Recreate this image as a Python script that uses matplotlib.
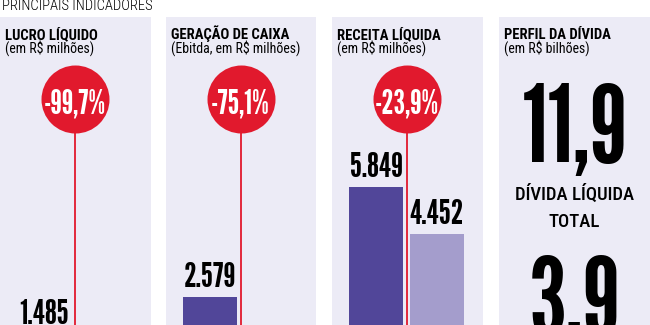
import matplotlib
matplotlib.use("Agg")
import matplotlib.pyplot as plt

# Dados
titulos = ["LUCRO LÍQUIDO", "GERAÇÃO DE CAIXA", "RECEITA LÍQUIDA", "PERFIL DA DÍVIDA"]
subtitulos = ["(em R$ milhões)", "(Ebitda, em R$ milhões)", "(em R$ milhões)", "(em R$ bilhões)"]
antes = [1485, 2579, 5849]
depois = [4.5, 642, 4452]
variacao = ["-99,7%", "-75,1%", "-23,9%"]
divida = ["11,9", "3,9"]
divida_rotulos = ["DÍVIDA LÍQUIDA", "TOTAL"]

W, H = 650, 325
fundo = "#ecebf6"
roxo = "#514699"
lilas = "#a49dcc"
vermelho = "#e1192d"
f_num = ["League Gothic", "DejaVu Sans"]
f_txt = ["Roboto Condensed", "DejaVu Sans"]

fig = plt.figure(figsize=(6.5, 3.25), dpi=100)
fig.patch.set_facecolor("white")

painel_x = [0, 166, 332, 499]
painel_w = [151, 150, 151, 151]
topo = 17
base = 384
escala = 0.0337  # px por unidade
pt = 0.72  # pontos por pixel


def fy(y):
    return 1 - y / H


def fmt(v):
    return f"{v:,.0f}".replace(",", ".")


fig.text(2 / W, fy(10), "PRINCIPAIS INDICADORES", fontsize=10.5, family=f_txt,
         fontweight="light", va="baseline", ha="left")

for i in range(4):
    l, w = painel_x[i], painel_w[i]
    ax = fig.add_axes([l / W, (H - base) / H, w / W, (base - topo) / H])
    ax.set_facecolor(fundo)
    for s in ax.spines.values():
        s.set_visible(False)
    ax.set_xticks([])
    ax.set_yticks([])
    ax.set_ylim(0, (base - topo) / escala)
    ax.set_xlim(-44 / 61, (w - 44) / 61)

    fig.text((l + 5) / W, fy(39), titulos[i], fontsize=10.5, fontweight="bold",
             family=f_txt, va="baseline", ha="left")
    fig.text((l + 5) / W, fy(53), subtitulos[i], fontsize=10,
             family=f_txt, va="baseline", ha="left")

    if i < 3:
        vals = [antes[i], depois[i]]
        ax.bar([0, 1], vals, width=54 / 61, color=[roxo, lilas], zorder=2)
        for x, v in zip([0, 1], vals):
            ax.annotate(fmt(v), (x, v), xytext=(0, 10 * pt), textcoords="offset points",
                        ha="center", va="baseline", fontsize=25,
                        family=f_num, color="black")
        cy = (base - 99) / escala
        ax.plot([0.5, 0.5], [0, cy], color=vermelho, lw=1.3, zorder=3)
        ax.scatter([0.5], [cy], s=(68 * pt) ** 2, color=vermelho, zorder=4, linewidths=0)
        ax.annotate(variacao[i], (0.5, cy), xytext=(0, -14 * pt), textcoords="offset points",
                    ha="center", va="baseline", color="white",
                    fontsize=24, family=f_num, zorder=5)
    else:
        cx = (l + w / 2) / W
        fig.text(cx, fy(162), divida[0], ha="center", va="baseline",
                 fontsize=78, family=f_num)
        fig.text(cx, fy(200), divida_rotulos[0], ha="center", va="baseline",
                 fontsize=13.5, fontweight="medium", family=f_txt)
        fig.text(cx, fy(227), divida_rotulos[1], ha="center", va="baseline",
                 fontsize=13.5, fontweight="medium", family=f_txt)
        fig.text(cx, fy(334), divida[1], ha="center", va="baseline",
                 fontsize=78, family=f_num)

fig.savefig("out.png", dpi=100, facecolor="white")
